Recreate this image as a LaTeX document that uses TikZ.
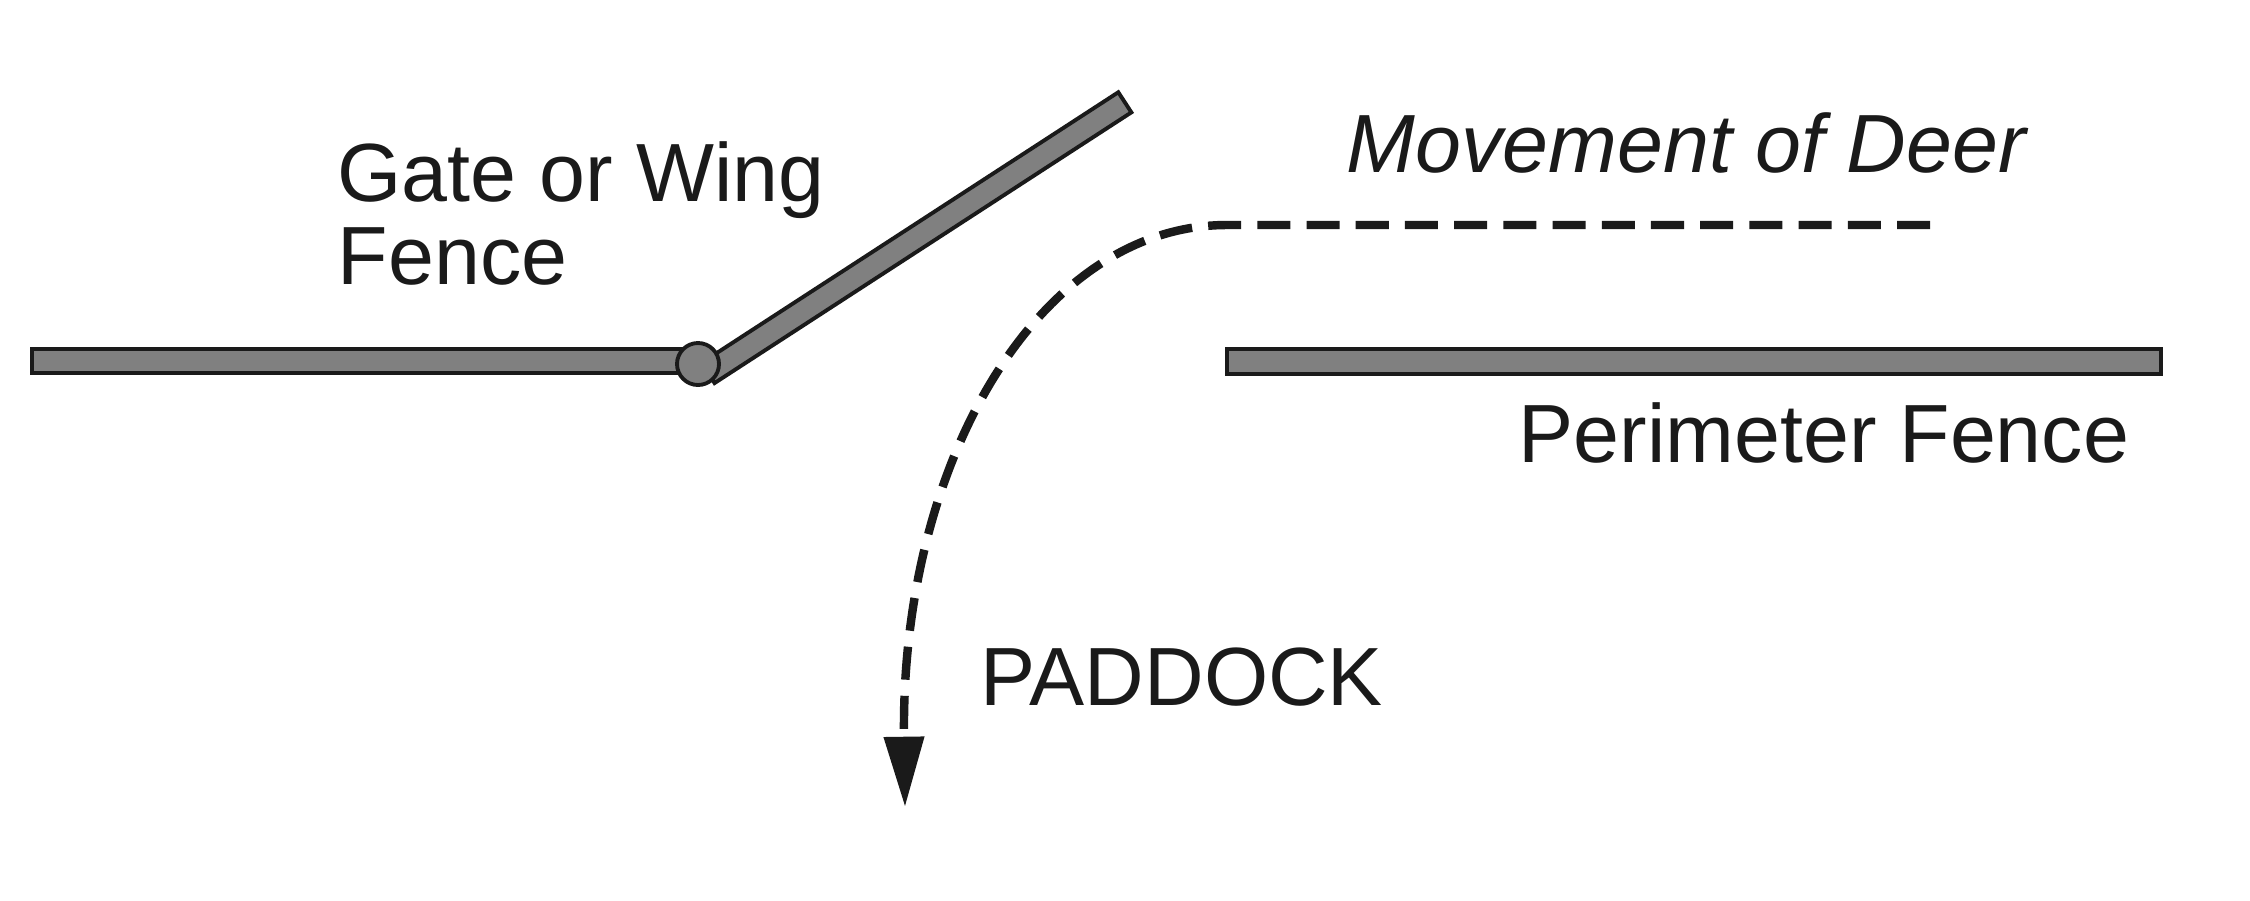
\documentclass[tikz,border=0pt]{standalone}
\usepackage{fontspec}
\setmainfont{Liberation Sans}
\usetikzlibrary{arrows.meta}
\definecolor{ink}{HTML}{1A1A1A}
\definecolor{fencegray}{HTML}{808080}
\begin{document}
\begin{tikzpicture}[
    fence/.style={draw=ink, fill=fencegray, line width=1.1pt},
    label/.style={inner sep=0pt, text=ink, font=\fontsize{23.5}{23.6}\selectfont},
    deerpath/.style={draw=ink, line width=2.4pt, dash pattern=on 9.4pt off 4.6pt,
      -{Triangle[length=20pt, width=11pt]}}
  ]
  \useasboundingbox (0,0) rectangle (22.5,-9);
  % fences
  \draw[fence] (0.32,-3.49) rectangle (6.99,-3.73);
  \draw[fence] (12.27,-3.49) rectangle (21.61,-3.74);
  \begin{scope}[shift={(7.08,-3.73)}, rotate=33]
    \draw[fence] (0,-0.12) rectangle (4.97,0.12);
  \end{scope}
  \draw[fence] (6.98,-3.64) circle (0.21);
  % path of the deer
  \coordinate (pathstart) at (19.30,-2.25);
  \coordinate (bend) at (12.27,-2.25);
  \coordinate (pathend) at (9.05,-8.07);
  \draw[deerpath] (pathstart) -- (bend)
    .. controls (10.40,-2.25) and (9.00,-4.60) .. (pathend);
  % labels
  \node[label, align=left, anchor=north west] (gate) at (3.37,-1.41) {Gate or Wing\\Fence};
  \node[label, anchor=base west] (movement) at (13.46,-1.72) {\itshape Movement of Deer};
  \node[label, anchor=base west] (perimeter) at (15.18,-4.62) {Perimeter Fence};
  \node[label, anchor=base west] (paddock) at (9.80,-7.05) {PADDOCK};
\end{tikzpicture}
\end{document}
